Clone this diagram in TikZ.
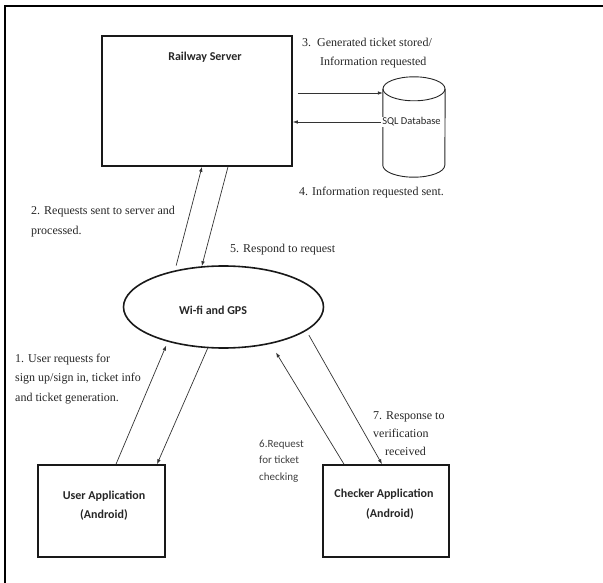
\documentclass[tikz,border=0pt]{standalone}
\usepackage{fontspec}
\setmainfont{Liberation Serif}
\newfontfamily\calibfont{Carlito}
\usetikzlibrary{arrows.meta,shapes.geometric,calc}

\begin{document}
\begin{tikzpicture}[x=1pt,y=1pt,
  boxnode/.style={draw=black!90, line width=1.6pt, inner sep=0pt},
  boxtext/.style={font={\calibfont\bfseries\fontsize{12}{19.5}\selectfont}, align=center, text=black!85, inner sep=0pt},
  note/.style={font={\fontsize{12}{19.5}\selectfont}, align=left, anchor=base west, text=black!85, inner sep=0pt},
  sansnote/.style={font={\calibfont\fontsize{11}{16.5}\selectfont}, align=left, anchor=base west, text=black!75, inner sep=0pt},
  link/.style={draw=black!80, line width=0.7pt, -{Latex[length=5pt,width=3.6pt]}},
  cyl/.style={draw=black!85, line width=0.9pt},
  frameline/.style={draw=black, line width=1.7pt}]

\useasboundingbox (0,0) rectangle (603,-583);

% outer frame (top and left edges only)
\draw[frameline] (4.9,-583) -- (4.9,-5.7) -- (603,-5.7);

% main blocks
\node[boxnode, minimum width=190, minimum height=130] (server) at (197,-101) {};
\node[boxtext] (serverlbl) at (205,-57) {Railway Server};

\node[boxnode, minimum width=127, minimum height=92] (user) at (101.5,-511) {};
\node[boxtext] (userlbl) at (104,-505.5) {User Application\\(Android)};

\node[boxnode, minimum width=126, minimum height=92] (checker) at (386,-511) {};
\node[boxtext] (checkerlbl) at (384,-504) {Checker Application\\\hspace*{12pt}(Android)};

\node[draw=black!90, line width=1.6pt, ellipse, minimum width=200, minimum height=82, inner sep=0pt] (wifi) at (223.5,-307) {};
\node[boxtext] (wifilbl) at (213,-310) {Wi-fi and GPS};

% database cylinder
\node[minimum width=62, minimum height=100, inner sep=0pt] (db) at (414,-127) {};
\draw[cyl] ($(db.north west)+(0,-12)$) -- ($(db.south west)+(0,12)$)
  arc[start angle=180, end angle=360, x radius=31, y radius=12]
  -- ($(db.north east)+(0,-12)$);
\draw[cyl] ($(db.north)+(0,-12)$) ellipse[x radius=31, y radius=12];
\node[fill=white, inner sep=1pt, font={\calibfont\fontsize{10.5}{12}\selectfont}, text=black!85] (sql) at (411.5,-122) {SQL Database};

% server <-> database
\draw[link] ($(server.east)+(5,8)$) -- ($(db.west)+(0,34)$);
\draw[link] (sql.west) -- (sql.west -| server.east);

% server <-> network
\draw[link, shorten <=5pt] (wifi.143) -- ($(server.south)+(5,0)$);
\draw[link] ($(server.south)+(31,0)$) -- (wifi.118);

% user application <-> network
\draw[link, shorten >=4pt] ($(user.north)+(14.5,0)$) -- (wifi.212);
\draw[link] (wifi.249) -- ($(user.north)+(55.5,0)$);

% checker application <-> network
\draw[link, shorten >=10pt] ($(checker.north)+(-42,0)$) -- (wifi.322);
\draw[link, shorten <=5pt] (wifi.344) -- ($(checker.north)+(-4,0)$);

% step labels (multi-line nodes sit on the baseline of their last line)
\node[note, font={\fontsize{12}{19}\selectfont}] (t3) at (302,-66) {3.\ \ Generated ticket stored/\\\hspace*{18pt}Information requested};
\node[note] (t4) at (299,-196) {4. Information requested sent.};
\node[note, font={\fontsize{12}{20}\selectfont}] (t2) at (31,-234) {2. Requests sent to server and\\processed.};
\node[note] (t5) at (230,-252) {5. Respond to request};
\node[note] (t1) at (15,-401) {1. User requests for\\sign up/sign in, ticket info\\and ticket generation.};
\node[sansnote] (t6) at (259,-480) {6.Request\\for ticket\\checking};
\node[note, font={\fontsize{12}{18}\selectfont}] (t7) at (373,-455) {7. Response to\\verification\\\hspace*{12pt}received};

\end{tikzpicture}
\end{document}
